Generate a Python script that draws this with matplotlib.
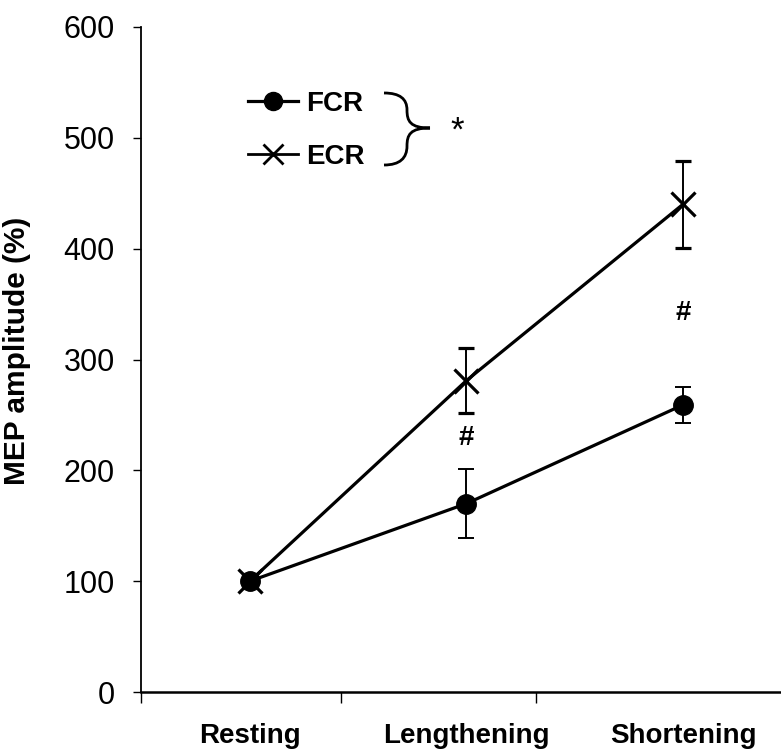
import matplotlib
matplotlib.use("Agg")
import matplotlib.pyplot as plt
import numpy as np
from matplotlib.lines import Line2D
from matplotlib.path import Path
from matplotlib.patches import PathPatch

conditions = ['Resting', 'Lengthening', 'Shortening']
fcr_mean = [100, 170, 259]
fcr_err = [0, 31, 16]
ecr_mean = [100, 281, 440]
ecr_err = [0, 29, 39]
hash_pos = [(1, 229), (2, 342)]

W, H = 781, 755


def main():
    plt.rcParams['font.family'] = ['Liberation Sans', 'DejaVu Sans']
    fig = plt.figure(figsize=(W / 100, H / 100), dpi=100)
    ax = fig.add_axes([141 / W, 1 - 692 / H, 1 - 141 / W, 665 / H])

    x = np.arange(len(conditions))
    ax.errorbar(x, fcr_mean, yerr=fcr_err, color='black', lw=2.3, marker='o',
                ms=14, ecolor='black', elinewidth=1.4, capsize=6, capthick=1.4, zorder=3)
    ax.errorbar(x, ecr_mean, yerr=ecr_err, color='black', lw=2.3, marker='x',
                ms=17, mew=2.3, ecolor='black', elinewidth=1.4, capsize=6, capthick=1.4, zorder=3)

    for hx, hy in hash_pos:
        ax.text(hx, hy, '#', ha='center', va='center', fontsize=20, fontweight='bold')

    ax.set_xlim(-0.503, 2.453)
    ax.set_ylim(0, 600)
    ax.set_yticks(np.arange(0, 601, 100))
    ax.set_xticks(x)
    ax.set_xticklabels(conditions, fontsize=20, fontweight='bold')
    ax.tick_params(axis='x', length=0, pad=22)
    ax.set_xticks([-0.503, 0.42, 1.32], minor=True)
    ax.tick_params(axis='x', which='minor', length=8, width=1, direction='out')
    ax.tick_params(axis='y', labelsize=22, length=6, width=1, direction='out', pad=13)
    ax.spines['top'].set_visible(False)
    ax.spines['right'].set_visible(False)
    ax.spines['left'].set_linewidth(1.3)
    ax.spines['bottom'].set_linewidth(1.8)
    ax.set_ylabel('MEP amplitude (%)', fontsize=21.5, fontweight='bold')
    ax.yaxis.set_label_coords(-0.172, 0.513)

    handles = [
        Line2D([], [], color='black', lw=2.3, marker='o', ms=13),
        Line2D([], [], color='black', lw=2.0, marker='x', ms=15, mew=2),
    ]
    fig.legend(handles, ['FCR', 'ECR'], loc='upper left', frameon=False,
               bbox_to_anchor=(248 / W, 1 - 91 / H), borderpad=0, borderaxespad=0,
               handlelength=1.8, handletextpad=0.3, labelspacing=0.97,
               prop={'weight': 'bold', 'size': 20})

    # curly brace joining the two legend rows
    pts = [(384, 93), (400, 93), (407, 99), (407, 110),
           (407, 121), (410, 128), (430, 128),
           (410, 128), (407, 135), (407, 146),
           (407, 158), (400, 165), (384, 165)]
    codes = [Path.MOVETO] + [Path.CURVE4] * 12
    verts = [(px / W, 1 - py / H) for px, py in pts]
    fig.patches.append(PathPatch(Path(verts, codes), fill=False, lw=2.0,
                                 edgecolor='black', transform=fig.transFigure))
    fig.text(457 / W, 1 - 131 / H, '*', ha='center', va='center', fontsize=25)

    fig.savefig('out.png', dpi=100)


if __name__ == "__main__":
    main()
